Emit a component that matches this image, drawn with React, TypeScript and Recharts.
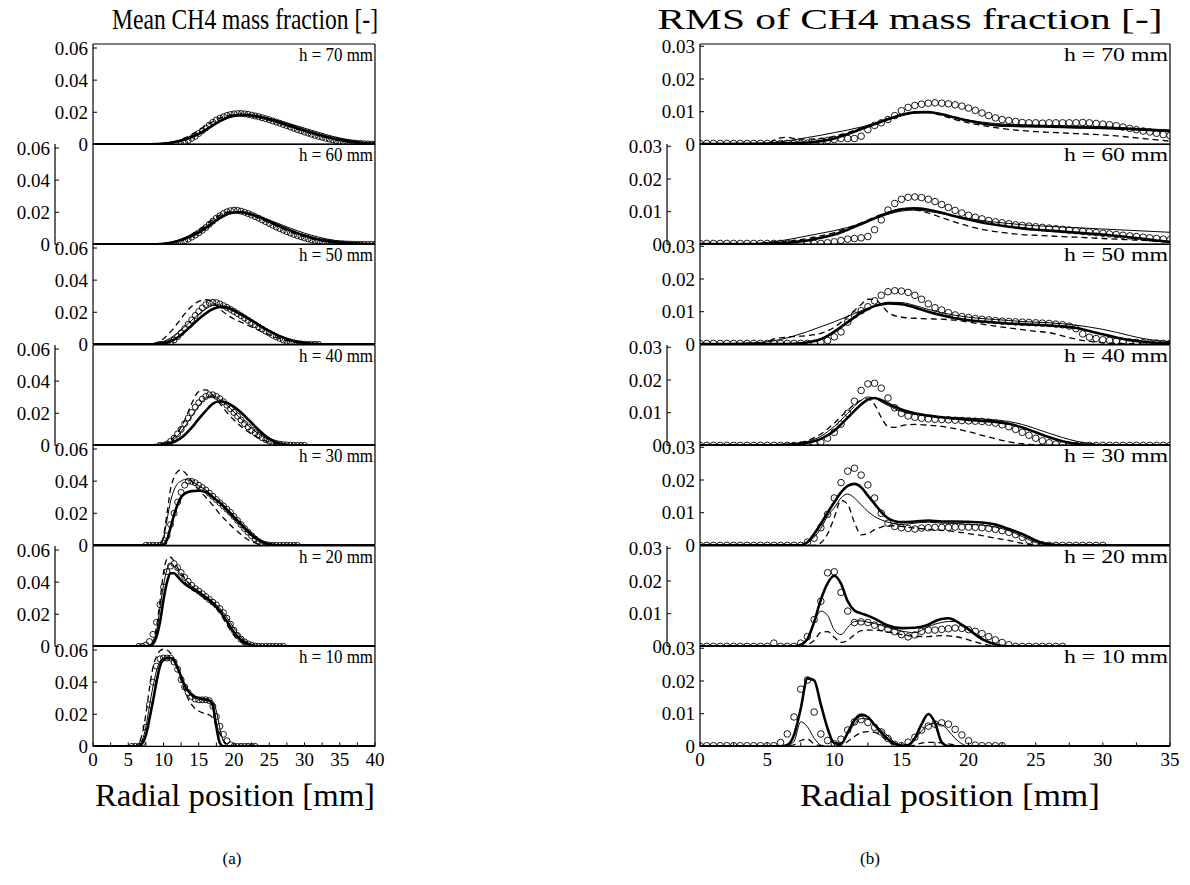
import React from 'react';
import { ComposedChart, Line, Scatter, XAxis, YAxis } from 'recharts';

const FONT = '"Liberation Serif", "Times New Roman", Times, serif';

// ---------------- LEFT COLUMN: mean CH4 mass fraction ----------------
const L70_X = [0, 8, 9, 10, 11, 12, 13, 14, 15, 16, 17, 18, 19, 20, 21, 22, 23, 24, 25, 26, 27, 28, 29, 30, 31, 32, 33, 34, 35, 36, 37, 38, 39, 40];
const L70_THICK = [0, 0, .0002, .0005, .001, .0018, .003, .0046, .0066, .009, .0118, .0145, .0166, .0179, .0184, .0182, .0176, .0167, .0156, .0143, .0129, .0115, .0101, .0087, .0073, .006, .0048, .0037, .0028, .002, .0014, .0009, .0005, .0003];
const L70_THIN = [0, .0001, .0003, .0007, .0013, .0022, .0035, .0051, .0071, .0095, .0121, .0146, .0165, .0177, .0182, .0181, .0176, .0169, .016, .015, .0139, .0127, .0114, .0101, .0088, .0075, .0062, .005, .004, .003, .0022, .0015, .001, .0006];
const L70_DASH = [0, .0001, .0003, .0005, .0012, .0024, .004, .0062, .0088, .0116, .0142, .0163, .0178, .0186, .0187, .0182, .0173, .0162, .015, .0137, .0123, .0109, .0095, .0081, .0068, .0055, .0044, .0034, .0025, .0018, .0012, .0008, .0005, .0003];
const L70_C0 = 12.5;
const L70_C = [0, .001, .0025, .0038, .005, .0068, .0085, .0102, .012, .0138, .0152, .0163, .0172, .018, .0186, .019, .0192, .0192, .019, .0187, .0182, .0177, .0172, .0166, .016, .0153, .0146, .0139, .0132, .0124, .0116, .0108, .01, .0092, .0085, .0077, .007, .0063, .0056, .005, .0044, .0038, .0033, .0028, .0024, .002, .0017, .0014, .0011, .0009, .0007, .0005, .0004, .0003, .0002, .0001];

const L60_X = [0, 8, 9, 10, 11, 12, 13, 14, 15, 16, 17, 18, 19, 20, 21, 22, 23, 24, 25, 26, 27, 28, 29, 30, 31, 32, 33, 34, 35, 36, 37, 38, 39, 40];
const L60_THICK = [0, 0, .0001, .0004, .001, .002, .0035, .0052, .0074, .0102, .0135, .0165, .0188, .0199, .02, .0193, .0179, .0162, .0143, .0124, .0105, .0087, .007, .0055, .0042, .0031, .0022, .0015, .001, .0006, .0004, .0002, .0001, 0];
const L60_THIN = [0, .0001, .0002, .0006, .0013, .0025, .004, .006, .0083, .011, .014, .0168, .0188, .0198, .0199, .0193, .0182, .0168, .0152, .0135, .0118, .0101, .0085, .007, .0057, .0045, .0035, .0027, .002, .0015, .0011, .0008, .0006, .0004];
const L60_DASH = [0, .0001, .0002, .0005, .0012, .0024, .004, .0062, .009, .0122, .0155, .0182, .0199, .0205, .0201, .019, .0174, .0155, .0135, .0115, .0096, .0078, .0062, .0048, .0036, .0026, .0018, .0012, .0008, .0005, .0003, .0002, .0001, 0];
const L60_C0 = 11.5;
const L60_C = [0, .0005, .0012, .0022, .0033, .0045, .0058, .0072, .0088, .0105, .0125, .0145, .0163, .0178, .0192, .0203, .021, .0213, .0212, .0207, .02, .0192, .0183, .0173, .0163, .0152, .0141, .013, .0119, .0108, .0098, .0088, .0079, .007, .0062, .0054, .0047, .004, .0034, .0029, .0024, .002, .0016, .0013, .001, .0008, .0006, .0005, .0004, .0003, .0002, .0001, .0001, 0, 0, 0, 0, 0];

const L50_X = [0, 8, 9, 10, 11, 12, 13, 14, 15, 16, 17, 18, 19, 20, 21, 22, 23, 24, 25, 26, 27, 28, 29, 30, 31, 32, 33, 34, 35, 36, 37, 38, 39, 40];
const L50_THICK = [0, 0, .0002, .0006, .002, .0043, .0078, .0118, .0158, .0193, .022, .0233, .0229, .0211, .0187, .0162, .0135, .0108, .0083, .0061, .0042, .0027, .0016, .0009, .0004, .0002, 0, 0, 0, 0, 0, 0, 0, 0];
const L50_THIN = [0, .0001, .0006, .0018, .004, .0072, .011, .015, .0188, .022, .0242, .0245, .0232, .021, .0185, .0158, .0131, .0105, .0081, .006, .0042, .0028, .0017, .001, .0005, .0002, 0, 0, 0, 0, 0, 0, 0, 0];
const L50_DASH = [0, .0002, .001, .0035, .0078, .0132, .019, .0238, .0268, .0278, .0262, .022, .0185, .0158, .0138, .0118, .0098, .0078, .006, .0043, .0029, .0018, .001, .0005, .0002, .0001, 0, 0, 0, 0, 0, 0, 0, 0];
const L50_C0 = 9.5;
const L50_C = [0, 0, .0003, .0012, .0028, .0048, .0072, .0098, .0125, .0152, .018, .0205, .0228, .0248, .0258, .0262, .026, .0252, .0242, .023, .0218, .0205, .0192, .0178, .0164, .015, .0136, .0122, .0108, .0095, .0082, .007, .0058, .0047, .0037, .0028, .002, .0014, .0009, .0005, .0003, .0001, 0, 0, 0, 0];

const L40_X = [0, 8, 9, 10, 11, 12, 13, 14, 15, 16, 17, 18, 19, 20, 21, 22, 23, 24, 25, 26, 27, 28, 29, 30, 31, 32, 33, 34, 35, 36, 37, 38, 39, 40];
const L40_THICK = [0, 0, .0002, .0007, .0015, .0033, .0065, .011, .0165, .0215, .026, .0275, .0265, .024, .0205, .0162, .0118, .0076, .0042, .0019, .0007, .0001, 0, 0, 0, 0, 0, 0, 0, 0, 0, 0, 0, 0];
const L40_THIN = [0, 0, .0002, .0006, .0022, .006, .0115, .018, .0245, .0295, .0308, .0285, .025, .0208, .0165, .0125, .0088, .0058, .0034, .0018, .0008, .0003, 0, 0, 0, 0, 0, 0, 0, 0, 0, 0, 0, 0];
const L40_DASH = [0, 0, .0002, .0008, .003, .008, .0155, .026, .0335, .0345, .031, .026, .0205, .0158, .0118, .0085, .0058, .0036, .002, .001, .0004, .0001, 0, 0, 0, 0, 0, 0, 0, 0, 0, 0, 0, 0];
const L40_C0 = 9.5;
const L40_C = [0, 0, .0009, .0025, .0045, .0072, .01, .0135, .017, .0205, .0238, .0265, .0288, .0305, .0315, .0315, .0305, .029, .0272, .025, .0228, .0205, .0182, .0158, .0135, .0115, .0095, .0078, .0062, .0048, .0036, .0026, .0018, .0012, .0008, .0005, .0003, .0001, 0, 0, 0, 0];

const L30_X = [0, 9, 9.5, 10, 10.5, 11, 11.5, 12, 12.5, 13, 14, 15, 16, 17, 18, 19, 20, 21, 22, 23, 24, 25, 26, 27, 40];
const L30_THICK = [0, 0, 0, .0005, .0035, .011, .019, .0255, .03, .0322, .0338, .034, .0333, .03, .0265, .0222, .0178, .0132, .0088, .005, .0022, .0007, .0001, 0, 0];
const L30_THIN = [0, 0, 0, .0045, .016, .0275, .0345, .0385, .04, .041, .04, .037, .0345, .0305, .026, .0212, .0165, .0118, .0075, .004, .0015, .0004, 0, 0, 0];
const L30_DASH = [0, 0, .0003, .006, .02, .035, .0425, .046, .047, .0455, .04, .0345, .03, .025, .0195, .0148, .0105, .0068, .0035, .0015, .0004, 0, 0, 0, 0];
const L30_C0 = 7.5;
const L30_C = [0, 0, 0, 0, 0, .0015, .006, .013, .02, .027, .033, .0375, .04, .0398, .039, .0375, .036, .0345, .0325, .0305, .0285, .0265, .0245, .0225, .0205, .018, .0155, .013, .0105, .0082, .006, .004, .0023, .0012, .0005, .0002, 0, 0, 0, 0, 0, 0, 0, 0];

const L20_X = [0, 7.5, 8, 8.5, 9, 9.5, 10, 10.5, 11, 11.5, 12, 12.5, 13, 14, 15, 16, 17, 18, 19, 20, 21, 22, 23, 24, 40];
const L20_THICK = [0, 0, .0002, .0015, .006, .015, .029, .04, .0455, .0455, .0435, .041, .039, .036, .0335, .0305, .0268, .022, .0155, .0088, .004, .0013, .0002, 0, 0];
const L20_THIN = [0, 0, .0002, .002, .009, .024, .038, .048, .0515, .05, .0475, .0445, .042, .0375, .0345, .031, .0278, .0238, .018, .0115, .0058, .0022, .0005, 0, 0];
const L20_DASH = [0, 0, 0, .003, .012, .028, .046, .0545, .0555, .053, .049, .046, .0425, .0375, .0335, .029, .0262, .0205, .0135, .0068, .0028, .0008, 0, 0, 0];
const L20_C0 = 6.5;
const L20_C = [0, 0, .0008, .003, .0075, .015, .026, .037, .0465, .05, .0515, .049, .046, .043, .0405, .038, .036, .0345, .0328, .031, .0292, .0275, .0258, .0235, .021, .0175, .0138, .01, .0068, .0045, .0028, .0015, .0007, .0002, 0, 0, 0, 0, 0, 0, 0, 0];

const L10_X = [0, 6, 6.5, 7, 7.5, 8, 8.5, 9, 9.5, 10, 10.5, 11, 11.5, 12, 12.5, 13, 13.5, 14, 14.5, 15, 15.5, 16, 16.5, 17, 17.5, 18, 18.5, 19, 19.5, 20, 40];
const L10_THICK = [0, 0, .0003, .002, .007, .017, .028, .04, .05, .054, .055, .055, .0535, .049, .0435, .038, .0345, .032, .0305, .03, .0295, .029, .0285, .0255, .012, .002, 0, 0, 0, 0, 0];
const L10_THIN = [0, 0, .0008, .004, .012, .025, .037, .047, .053, .055, .0555, .055, .053, .0485, .043, .038, .035, .0325, .031, .03, .0295, .0295, .029, .028, .022, .011, .003, .0005, 0, 0, 0];
const L10_DASH = [0, 0, .002, .008, .02, .036, .049, .056, .0595, .0605, .06, .058, .0545, .048, .041, .035, .0295, .026, .0235, .022, .021, .0205, .0195, .0175, .013, .0078, .0038, .0012, .0002, 0, 0];
const L10_C0 = 5.5;
const L10_C = [0, 0, 0, .002, .012, .026, .04, .05, .0545, .055, .055, .055, .0525, .048, .0415, .037, .0335, .031, .0295, .029, .029, .029, .0285, .025, .0185, .0125, .0075, .0035, .001, 0, 0, 0, 0, 0, 0, 0];

// ---------------- RIGHT COLUMN: RMS of CH4 mass fraction ----------------
const R70_X = [0, 4, 5, 5.5, 6, 6.5, 7, 8, 9, 10, 11, 12, 13, 14, 15, 16, 17, 18, 19, 20, 21, 22, 23, 24, 25, 26, 27, 28, 29, 30, 31, 32, 33, 34, 35];
const R70_THICK = [.0001, .0002, .0002, .0002, .0003, .0003, .0004, .0006, .001, .0018, .0032, .0047, .0062, .0077, .009, .0098, .0099, .0092, .0082, .0072, .0064, .0059, .0057, .0056, .0055, .0054, .0053, .0052, .0051, .005, .0049, .0047, .0045, .0043, .0041];
const R70_THIN = [.0001, .0003, .0004, .0006, .0008, .0011, .0014, .0021, .0028, .0036, .0044, .0053, .0064, .0076, .0088, .0096, .0097, .0091, .0082, .0074, .0068, .0064, .0061, .006, .0059, .0058, .0057, .0056, .0055, .0054, .0052, .005, .0048, .0046, .0044];
const R70_DASH = [.0001, .0002, .0003, .0012, .002, .0022, .0018, .0016, .0018, .0025, .0036, .005, .0065, .0079, .0091, .0098, .0097, .0088, .0076, .0066, .0058, .0051, .0046, .0042, .0039, .0037, .0035, .0033, .0031, .0029, .0026, .0022, .0018, .0014, .001];
const R70_C0 = 0;
const R70_C = [.0003, .0003, .0003, .0003, .0003, .0003, .0003, .0003, .0003, .0003, .0003, .0003, .0003, .0003, .0003, .0003, .0004, .0006, .0009, .0012, .0015, .0018, .0018, .0018, .0025, .0045, .0058, .0066, .0076, .0088, .0103, .0113, .0119, .0123, .0126, .0127, .0126, .0124, .0121, .0117, .0111, .0104, .0096, .0088, .0081, .0076, .0073, .007, .0067, .0066, .0066, .0065, .0066, .0066, .0066, .0066, .0066, .0067, .0066, .0064, .0062, .006, .0057, .0053, .0049, .0045, .0041, .0038, .0034, .003, .0027];

const R60_X = [0, 4, 5, 6, 7, 8, 9, 10, 11, 12, 13, 14, 15, 16, 17, 18, 19, 20, 21, 22, 23, 24, 25, 26, 27, 28, 29, 30, 31, 32, 33, 34, 35];
const R60_THICK = [.0001, .0001, .0002, .0004, .0007, .0012, .002, .003, .0045, .0062, .008, .0096, .0107, .011, .0106, .0097, .0086, .0076, .0067, .006, .0054, .0049, .0045, .0042, .0039, .0036, .0033, .003, .0026, .0022, .0017, .0012, .0008];
const R60_THIN = [.0002, .0002, .0006, .0011, .0018, .0026, .0034, .0042, .0052, .0064, .0078, .0092, .0102, .0105, .0101, .0094, .0086, .0079, .0073, .0068, .0064, .006, .0057, .0055, .0053, .0051, .0049, .0047, .0045, .0043, .0041, .0039, .0037];
const R60_DASH = [.0002, .0002, .0002, .0006, .0012, .0018, .0026, .0036, .005, .0066, .0083, .0099, .0108, .0106, .0096, .0082, .0068, .0056, .0046, .0039, .0034, .003, .0028, .0026, .0024, .0022, .002, .0018, .0016, .0014, .0012, .001, .0008];
const R60_C0 = 0;
const R60_C = [.0003, .0003, .0003, .0003, .0003, .0003, .0003, .0003, .0003, .0003, .0003, .0003, .0003, .0003, .0003, .0003, .0003, .0003, .0003, .0005, .0008, .0012, .0016, .0018, .002, .0024, .0045, .0075, .0105, .0125, .0138, .0144, .0145, .0143, .0138, .0131, .0122, .0113, .0104, .0096, .0089, .0083, .0078, .0073, .0069, .0066, .0063, .006, .0058, .0056, .0054, .0052, .005, .0048, .0046, .0044, .0042, .004, .0038, .0036, .0034, .0032, .003, .0028, .0026, .0024, .0022, .002, .0018, .0016, .0014];

const R50_X = [0, 4, 5, 5.5, 6, 7, 8, 9, 10, 11, 12, 12.5, 13, 13.5, 14, 15, 16, 17, 18, 19, 20, 21, 22, 23, 24, 25, 26, 27, 28, 29, 30, 31, 32, 33, 34, 35];
const R50_THICK = [.0001, .0001, .0001, .0001, .0001, .0002, .0006, .0016, .0039, .0068, .0097, .0108, .0117, .0122, .0125, .0123, .0113, .01, .0089, .008, .0074, .007, .0067, .0064, .0062, .006, .0058, .0055, .005, .0041, .0031, .0021, .0013, .0008, .0005, .0003];
const R50_THIN = [.0001, .0005, .0008, .0011, .0015, .0026, .0039, .0054, .0069, .0086, .0103, .0111, .0119, .0125, .0129, .0128, .0119, .0107, .0097, .0089, .0083, .0079, .0076, .0073, .007, .0068, .0066, .0063, .0059, .0053, .0046, .0037, .0027, .0018, .0012, .0008];
const R50_DASH = [.0001, .0001, .0008, .0017, .002, .0024, .0027, .0034, .0052, .0085, .0122, .0138, .0137, .0122, .0098, .0083, .008, .0078, .0077, .0074, .0068, .0062, .0056, .005, .0045, .004, .0036, .0026, .0016, .0009, .0005, .0003, .0002, .0001, .0001, .0001];
const R50_C0 = 0;
const R50_C = [.0003, .0003, .0003, .0003, .0003, .0003, .0003, .0003, .0003, .0003, .0003, .0003, .0003, .0003, .0003, .0003, .0003, .0003, .0006, .0012, .0023, .0038, .0068, .009, .0103, .0115, .0133, .015, .0161, .0164, .0163, .0159, .015, .0138, .0124, .0112, .0105, .0097, .009, .0085, .0082, .0079, .0077, .0075, .0073, .0071, .007, .0069, .0068, .0067, .0066, .0065, .0064, .0062, .006, .0056, .0048, .0032, .0022, .0018, .0014, .0012, .001, .0008, .0007, .0006, .0005, .0004, .0004, .0003, .0003];

const R40_X = [0, 5, 6, 7, 8, 9, 10, 11, 12, 12.5, 13, 13.5, 14, 14.5, 15, 16, 17, 18, 19, 20, 21, 22, 23, 24, 25, 26, 27, 28, 29, 30, 35];
const R40_THICK = [0, 0, .0001, .0003, .0008, .002, .0045, .0085, .0125, .014, .0145, .0138, .0128, .0118, .011, .0098, .0091, .0086, .0082, .0078, .0075, .0072, .0066, .0055, .004, .0025, .0013, .0005, .0001, 0, 0];
const R40_THIN = [0, 0, .0002, .0005, .0012, .0028, .0058, .0098, .0138, .0148, .0145, .0133, .0122, .0112, .0104, .0095, .009, .0087, .0085, .0083, .0081, .0078, .0073, .0064, .0051, .0037, .0024, .0013, .0006, .0002, 0];
const R40_DASH = [0, 0, .0002, .0006, .0015, .0035, .0068, .0108, .0138, .0142, .0125, .0085, .0058, .0055, .006, .0064, .0062, .0058, .0051, .0042, .0031, .002, .0011, .0005, .0002, 0, 0, 0, 0, 0, 0];
const R40_C0 = 0;
const R40_C = [0, 0, 0, 0, 0, 0, 0, 0, 0, 0, 0, 0, 0, 0, 0, 0, 0, .0004, .001, .0022, .004, .0065, .0098, .0135, .0168, .0188, .019, .0175, .0145, .0115, .0098, .009, .0086, .0083, .0081, .008, .0079, .0078, .0077, .0076, .0075, .0074, .0073, .0071, .0068, .0063, .0057, .0049, .004, .0031, .0022, .0014, .0008, .0004, .0002, .0001, 0, 0, 0, 0, 0, 0, 0, 0, 0, 0, 0, 0, 0, 0, 0];

const R30_X = [0, 7, 7.5, 8, 8.5, 9, 9.5, 10, 10.5, 11, 11.5, 12, 12.5, 13, 13.5, 14, 14.5, 15, 16, 17, 18, 19, 20, 21, 22, 23, 24, 25, 26, 27, 35];
const R30_THICK = [0, 0, 0, .001, .0035, .0066, .01, .0132, .0162, .0182, .0188, .0178, .0152, .0127, .0102, .0083, .0074, .0071, .0073, .0076, .0073, .0073, .0072, .007, .0064, .005, .0035, .0015, .0003, 0, 0];
const R30_THIN = [0, 0, 0, .0008, .0025, .0052, .009, .0115, .0145, .0157, .0145, .0124, .0104, .0088, .0078, .0071, .0066, .0064, .0068, .0071, .0068, .0067, .0064, .0062, .0056, .0045, .0027, .0009, .0001, 0, 0];
const R30_DASH = [0, 0, 0, 0, 0, .0008, .0035, .0085, .0138, .0125, .007, .0032, .0036, .0048, .0056, .006, .006, .0058, .0053, .0049, .0046, .0042, .0036, .003, .0022, .0015, .0006, .0001, 0, 0, 0];
const R30_C0 = 0;
const R30_C = [0, 0, 0, 0, 0, 0, 0, 0, 0, 0, 0, 0, 0, 0, 0, 0, .001, .0022, .0054, .0095, .0145, .0192, .0227, .0236, .0215, .0185, .0145, .0098, .0068, .0058, .0054, .0052, .005, .0053, .0054, .0055, .0055, .0055, .0056, .0056, .0056, .0055, .0054, .0052, .0049, .0045, .004, .0033, .0025, .0015, .0006, .0001, 0, 0, 0, 0, 0, 0, 0, 0, 0];

const R20_X = [0, 7, 7.5, 8, 8.5, 9, 9.5, 10, 10.5, 11, 11.5, 12, 12.5, 13, 14, 15, 16, 17, 17.5, 18, 18.5, 19, 19.5, 20, 21, 22, 23, 35];
const R20_THICK = [0, 0, .0005, .0022, .0075, .0143, .0193, .0216, .0192, .0138, .011, .0101, .0094, .0085, .0064, .0056, .0057, .0066, .0077, .0084, .0086, .0079, .0066, .0052, .0022, .0006, 0, 0];
const R20_THIN = [0, 0, .0006, .0025, .0075, .0108, .0095, .005, .0036, .0058, .0076, .0078, .0074, .007, .0058, .0047, .0042, .006, .0068, .0073, .0076, .0076, .0068, .0055, .0025, .0007, 0, 0];
const R20_DASH = [0, 0, 0, .0005, .0018, .0043, .0045, .0028, .0012, .0018, .0036, .0048, .005, .005, .0044, .0036, .0031, .003, .0032, .0033, .0032, .003, .0026, .002, .0008, .0001, 0, 0];
const R20_C0 = 0;
const R20_C = [0, 0, 0, 0, 0, 0, 0, 0, 0, 0, 0, .001, 0, 0, 0, .001, .003, .0082, .0138, .0225, .0228, .0165, .0108, .0073, .0075, .0073, .0065, .0058, .0052, .0045, .0036, .0029, .0035, .0046, .005, .005, .0052, .0054, .0056, .0055, .0051, .0046, .0039, .003, .002, .0012, .0005, 0, 0, 0, 0, 0, 0, 0, 0];

const R10_X = [0, 6, 6.5, 7, 7.5, 8, 8.5, 9, 9.5, 10, 10.5, 11, 11.5, 12, 12.5, 13, 13.5, 14, 14.5, 15, 15.5, 16, 16.5, 17, 17.5, 18, 18.5, 19, 19.5, 20, 35];
const R10_THICK = [0, 0, .0004, .0035, .0115, .0208, .0202, .0128, .0055, .001, .0008, .0042, .008, .0097, .009, .0066, .0042, .0022, .0008, .0002, .0004, .0025, .0068, .0099, .0072, .0012, 0, 0, 0, 0, 0];
const R10_THIN = [0, 0, .0002, .0015, .0075, .006, .0025, .0004, 0, 0, .0008, .0038, .0068, .0085, .0084, .0068, .005, .0032, .0012, .0003, .0004, .0022, .0047, .0066, .007, .0066, .0048, .0024, .0008, .0001, 0];
const R10_DASH = [0, 0, 0, .0005, .0018, .0022, .0008, .0002, 0, 0, .0003, .0015, .003, .0042, .0045, .0043, .0032, .0015, .0004, 0, 0, .0004, .001, .0012, .0012, .0011, .0008, .0004, .0001, 0, 0];
const R10_C0 = 0;
const R10_C = [.0002, .0002, .0002, .0002, .0002, .0002, .0002, .0002, .0002, .0002, .0002, .0002, .0012, .0038, .009, .0175, .0203, .0105, .0038, .0018, .0008, .0022, .005, .0075, .0082, .0073, .0058, .0044, .0024, .0006, .0002, .0013, .0028, .005, .0062, .0068, .0072, .0068, .0052, .0035, .0017, .0004, .0002, .0002, .0002, .0002];

const HEIGHTS = ['h = 70 mm', 'h = 60 mm', 'h = 50 mm', 'h = 40 mm', 'h = 30 mm', 'h = 20 mm', 'h = 10 mm'];
const LEFT_Y_TICKS = [0, 0.02, 0.04, 0.06];
const RIGHT_Y_TICKS = [0, 0.01, 0.02, 0.03];
const LEFT_X_TICKS = [0, 2.5, 5, 7.5, 10, 12.5, 15, 17.5, 20, 22.5, 25, 27.5, 30, 32.5, 35, 37.5, 40];
const RIGHT_X_TICKS = [0, 2.5, 5, 7.5, 10, 12.5, 15, 17.5, 20, 22.5, 25, 27.5, 30, 32.5, 35];

type Spec = { x: number[]; thick: number[]; thin: number[]; dash: number[]; c0: number; c: number[] };
const LEFT: Spec[] = [
  { x: L70_X, thick: L70_THICK, thin: L70_THIN, dash: L70_DASH, c0: L70_C0, c: L70_C },
  { x: L60_X, thick: L60_THICK, thin: L60_THIN, dash: L60_DASH, c0: L60_C0, c: L60_C },
  { x: L50_X, thick: L50_THICK, thin: L50_THIN, dash: L50_DASH, c0: L50_C0, c: L50_C },
  { x: L40_X, thick: L40_THICK, thin: L40_THIN, dash: L40_DASH, c0: L40_C0, c: L40_C },
  { x: L30_X, thick: L30_THICK, thin: L30_THIN, dash: L30_DASH, c0: L30_C0, c: L30_C },
  { x: L20_X, thick: L20_THICK, thin: L20_THIN, dash: L20_DASH, c0: L20_C0, c: L20_C },
  { x: L10_X, thick: L10_THICK, thin: L10_THIN, dash: L10_DASH, c0: L10_C0, c: L10_C },
];
const RIGHT: Spec[] = [
  { x: R70_X, thick: R70_THICK, thin: R70_THIN, dash: R70_DASH, c0: R70_C0, c: R70_C },
  { x: R60_X, thick: R60_THICK, thin: R60_THIN, dash: R60_DASH, c0: R60_C0, c: R60_C },
  { x: R50_X, thick: R50_THICK, thin: R50_THIN, dash: R50_DASH, c0: R50_C0, c: R50_C },
  { x: R40_X, thick: R40_THICK, thin: R40_THIN, dash: R40_DASH, c0: R40_C0, c: R40_C },
  { x: R30_X, thick: R30_THICK, thin: R30_THIN, dash: R30_DASH, c0: R30_C0, c: R30_C },
  { x: R20_X, thick: R20_THICK, thin: R20_THIN, dash: R20_DASH, c0: R20_C0, c: R20_C },
  { x: R10_X, thick: R10_THICK, thin: R10_THIN, dash: R10_DASH, c0: R10_C0, c: R10_C },
];

// ---------------- layout ----------------
const TOP0 = 43.6;
const PH = 100.4;
const COLS = {
  L: { box0: 93, box1: 375, off: 55, svgLeft: 0, xMax: 40, yMax: 0.0625, yTicks: LEFT_Y_TICKS, xTicks: LEFT_X_TICKS, r: 3, hw: 74 },
  R: { box0: 700, box1: 1170, off: 667, svgLeft: 600, xMax: 35, yMax: 0.0307, yTicks: RIGHT_Y_TICKS, xTicks: RIGHT_X_TICKS, r: 3.3, hw: 104 },
};

const axisLine = { stroke: '#000', strokeWidth: 1.2 };
const tickLine = { stroke: '#000', strokeWidth: 1 };
const tickFont = { fontSize: 19, fill: '#000', fontFamily: FONT };
const fmtY = (v: number) => (v === 0 ? '0' : String(+v.toFixed(2)));
const fmtX = (v: number) => (v % 5 === 0 ? String(v) : '');

function Panel({ side, idx, s }: { side: 'L' | 'R'; idx: number; s: Spec }) {
  const c = COLS[side];
  const even = idx % 2 === 1;
  const last = idx === 6;
  const top = TOP0 + idx * PH;
  const padT = 14;
  const botH = last ? 40 : 14;
  const W = c.box1 - c.svgLeft + 10;
  const H = PH + padT + botH;
  const lines = s.x.map((x, i) => ({ x, thick: s.thick[i], thin: s.thin[i], dash: s.dash[i] }));
  const circ = s.c.map((y, i) => ({ x: s.c0 + i * 0.5, y }));
  const R = c.r;
  return (
    <div style={{ position: 'absolute', left: c.svgLeft, top: top - padT }}>
      <ComposedChart width={W} height={H} margin={{ top: padT - 1, right: 9, bottom: 0, left: 0 }}>
        <XAxis xAxisId="b" dataKey="x" type="number" domain={[0, c.xMax]} ticks={c.xTicks} interval={0} allowDataOverflow
          height={botH} tickSize={-4} tickMargin={10} axisLine={axisLine} tickLine={tickLine}
          tick={last ? tickFont : false} tickFormatter={fmtX} />
        <XAxis xAxisId="t" orientation="top" dataKey="x" type="number" domain={[0, c.xMax]} ticks={c.xTicks} interval={0} allowDataOverflow
          height={1} tickSize={-4} axisLine={axisLine} tickLine={tickLine} tick={false} />
        <YAxis yAxisId="inner" type="number" domain={[0, c.yMax]} ticks={c.yTicks} interval={0} allowDataOverflow
          width={even ? c.box0 - c.off : c.box0 - c.svgLeft} tickSize={-4} tickMargin={9}
          axisLine={axisLine} tickLine={tickLine} tick={even ? false : tickFont} tickFormatter={fmtY} />
        {even && (
          <YAxis yAxisId="outer" type="number" domain={[0, c.yMax]} ticks={c.yTicks} interval={0} allowDataOverflow
            width={c.off - c.svgLeft} tickSize={-4} tickMargin={9}
            axisLine={axisLine} tickLine={tickLine} tick={tickFont} tickFormatter={fmtY} />
        )}
        <YAxis yAxisId="rr" orientation="right" type="number" domain={[0, c.yMax]} ticks={c.yTicks} interval={0} allowDataOverflow
          width={1} tickSize={-4} axisLine={axisLine} tickLine={tickLine} tick={false} />
        <Scatter xAxisId="b" yAxisId="inner" data={circ} dataKey="y" isAnimationActive={false}
          shape={(p: any) => <circle cx={p.cx} cy={p.cy} r={R} fill="none" stroke="#000" strokeWidth={0.9} />} />
        <Line xAxisId="b" yAxisId="inner" data={lines} dataKey="dash" type="monotone" stroke="#000" strokeWidth={1.3}
          strokeDasharray="6 4" dot={false} activeDot={false} isAnimationActive={false} />
        <Line xAxisId="b" yAxisId="inner" data={lines} dataKey="thin" type="monotone" stroke="#000" strokeWidth={1}
          dot={false} activeDot={false} isAnimationActive={false} />
        <Line xAxisId="b" yAxisId="inner" data={lines} dataKey="thick" type="monotone" stroke="#000" strokeWidth={2.6}
          dot={false} activeDot={false} isAnimationActive={false} />
      </ComposedChart>
    </div>
  );
}

export default function App() {
  return (
    <div style={{ position: 'absolute', left: 0, top: 0, width: 1190, height: 885, background: '#fff', overflow: 'hidden' }}>
      {LEFT.map((s, i) => <Panel key={'L' + i} side="L" idx={i} s={s} />)}
      {RIGHT.map((s, i) => <Panel key={'R' + i} side="R" idx={i} s={s} />)}
      <svg width={1190} height={885} style={{ position: 'absolute', left: 0, top: 0, pointerEvents: 'none' }}>
        <g fontFamily={FONT} fill="#000">
          <text x={245} y={29} fontSize={30} textAnchor="middle" textLength={266} lengthAdjust="spacingAndGlyphs">Mean CH4 mass fraction [-]</text>
          <text x={910} y={29} fontSize={30} textAnchor="middle" textLength={505} lengthAdjust="spacingAndGlyphs">RMS of CH4 mass fraction [-]</text>
          <text x={235} y={806} fontSize={31} textAnchor="middle" textLength={280} lengthAdjust="spacingAndGlyphs">Radial position [mm]</text>
          <text x={950} y={806} fontSize={31} textAnchor="middle" textLength={300} lengthAdjust="spacingAndGlyphs">Radial position [mm]</text>
          <text x={232} y={864} fontSize={17} textAnchor="middle">(a)</text>
          <text x={870} y={864} fontSize={17} textAnchor="middle">(b)</text>
          {HEIGHTS.map((h, i) => (
            <text key={'hl' + i} x={COLS.L.box1 - 2} y={TOP0 + i * PH + 17} fontSize={19} textAnchor="end"
              textLength={COLS.L.hw} lengthAdjust="spacingAndGlyphs">{h}</text>
          ))}
          {HEIGHTS.map((h, i) => (
            <text key={'hr' + i} x={COLS.R.box1 - 2} y={TOP0 + i * PH + 17} fontSize={19} textAnchor="end"
              textLength={COLS.R.hw} lengthAdjust="spacingAndGlyphs">{h}</text>
          ))}
        </g>
      </svg>
    </div>
  );
}
